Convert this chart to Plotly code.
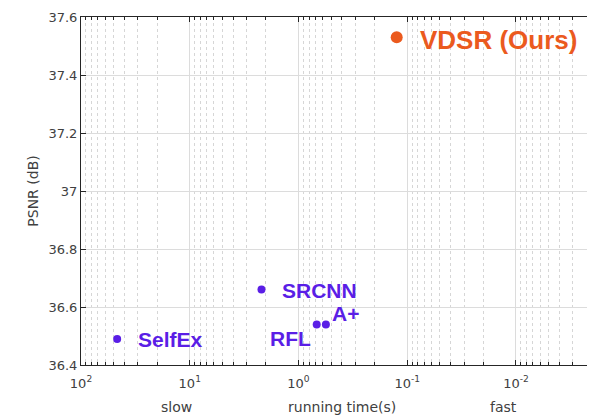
import plotly.graph_objects as go
import numpy as np

methods = ["SelfEx", "SRCNN", "RFL", "A+"]
times = [46.5, 2.19, 0.68, 0.56]
psnr = [36.49, 36.66, 36.54, 36.54]

ours_name = "VDSR (Ours)"
ours_time = [0.125]
ours_psnr = [37.53]

x_tickvals = [100, 10, 1, 0.1, 0.01]
x_ticktext = ["10<sup>2</sup>", "10<sup>1</sup>", "10<sup>0</sup>", "10<sup>-1</sup>", "10<sup>-2</sup>"]
y_tickvals = [36.4, 36.6, 36.8, 37.0, 37.2, 37.4, 37.6]
y_ticktext = ["36.4", "36.6", "36.8", "37", "37.2", "37.4", "37.6"]
x_labels = ["slow", "running time(s)", "fast"]

decades = [10.0, 1.0, 0.1, 0.01, 0.001]
minor_vals = [m * d for d in decades for m in range(2, 10)]

blue = "#5a1ee6"
orange = "#eb5a1e"
gray = "#404040"
axfont = "DejaVu Sans, Verdana, sans-serif"
boldfont = "Liberation Sans, Arial, sans-serif"

fig = go.Figure()
fig.add_trace(go.Scatter(x=times, y=psnr, mode="markers",
                         marker=dict(color=blue, size=8), showlegend=False))
fig.add_trace(go.Scatter(x=ours_time, y=ours_psnr, mode="markers",
                         marker=dict(color=orange, size=12), showlegend=False))

label_style = {
    "SelfEx": dict(xanchor="left", xshift=19, yshift=-1),
    "SRCNN": dict(xanchor="left", xshift=19, yshift=-1),
    "RFL": dict(xanchor="right", xshift=-4, yshift=-14),
    "A+": dict(xanchor="left", xshift=4, yshift=11),
}
for m, t, p in zip(methods, times, psnr):
    st = label_style[m]
    fig.add_annotation(x=np.log10(t), y=p, text=f"<b>{m}</b>", showarrow=False,
                       yanchor="middle", font=dict(family=boldfont, size=21, color=blue),
                       **st)
fig.add_annotation(x=np.log10(ours_time[0]), y=ours_psnr[0], text=f"<b>{ours_name}</b>",
                   showarrow=False, xanchor="left", yanchor="middle", xshift=21, yshift=-3,
                   font=dict(family=boldfont, size=26, color=orange))

for txt, xp in zip(x_labels, [0.186, 0.51, 0.826]):
    fig.add_annotation(x=xp, y=-0.122, xref="paper", yref="paper", text=txt, showarrow=False,
                       xanchor="center", yanchor="middle",
                       font=dict(family=axfont, size=14, color=gray))

axis_common = dict(showline=True, linecolor="#262626", linewidth=1, mirror="ticks",
                   ticks="inside", ticklen=5, tickcolor="#262626", zeroline=False,
                   ticklabeloverflow="allow",
                   tickfont=dict(family=axfont, size=13, color=gray))

fig.update_xaxes(type="log", range=[2, np.log10(0.002)], autorange=False,
                 tickvals=x_tickvals, ticktext=x_ticktext, ticklabelstandoff=6,
                 showgrid=True, gridcolor="#dcdcdc", gridwidth=1,
                 minor=dict(tickvals=minor_vals, ticks="inside", ticklen=3, tickcolor="#262626",
                            showgrid=True, gridcolor="#d6d6d6", griddash="dot", gridwidth=1),
                 **axis_common)
fig.update_yaxes(range=[36.4, 37.6], tickvals=y_tickvals, ticktext=y_ticktext,
                 showgrid=True, gridcolor="#dcdcdc", gridwidth=1,
                 title=dict(text="PSNR (dB)", standoff=6,
                            font=dict(family=axfont, size=14, color=gray)),
                 **axis_common)

fig.update_layout(width=587, height=410, margin=dict(l=73, r=2, t=5, b=53),
                  plot_bgcolor="white", paper_bgcolor="white", showlegend=False)

fig.write_html("out.html")
